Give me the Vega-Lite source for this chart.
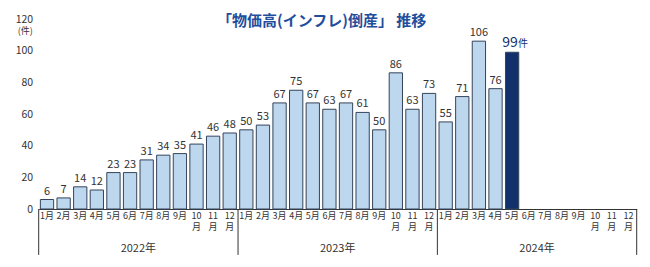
{
  "$schema": "https://vega.github.io/schema/vega-lite/v6.json",
  "width": 598,
  "height": 190,
  "autosize": {"type": "none"},
  "padding": {"left": 38.7, "top": 19, "right": 13.3, "bottom": 58},
  "config": {"font": "Noto Sans CJK JP", "view": {"stroke": null}, "axis": {"labelOverlap": false, "labelBound": false, "labelFlush": false}},
  "title": {"text": "「物価高(インフレ)倒産」 推移", "fontSize": 15, "fontWeight": "bold", "color": "#1f4e9c", "anchor": "middle", "dx": -16, "offset": -15, "font": "Noto Sans CJK JP"},
  "datasets": {
    "months": [
      {"m": "2022-01", "v": 6, "hl": "n"}, {"m": "2022-02", "v": 7, "hl": "n"}, {"m": "2022-03", "v": 14, "hl": "n"},
      {"m": "2022-04", "v": 12, "hl": "n"}, {"m": "2022-05", "v": 23, "hl": "n"}, {"m": "2022-06", "v": 23, "hl": "n"},
      {"m": "2022-07", "v": 31, "hl": "n"}, {"m": "2022-08", "v": 34, "hl": "n"}, {"m": "2022-09", "v": 35, "hl": "n"},
      {"m": "2022-10", "v": 41, "hl": "n"}, {"m": "2022-11", "v": 46, "hl": "n"}, {"m": "2022-12", "v": 48, "hl": "n"},
      {"m": "2023-01", "v": 50, "hl": "n"}, {"m": "2023-02", "v": 53, "hl": "n"}, {"m": "2023-03", "v": 67, "hl": "n"},
      {"m": "2023-04", "v": 75, "hl": "n"}, {"m": "2023-05", "v": 67, "hl": "n"}, {"m": "2023-06", "v": 63, "hl": "n"},
      {"m": "2023-07", "v": 67, "hl": "n"}, {"m": "2023-08", "v": 61, "hl": "n"}, {"m": "2023-09", "v": 50, "hl": "n"},
      {"m": "2023-10", "v": 86, "hl": "n"}, {"m": "2023-11", "v": 63, "hl": "n"}, {"m": "2023-12", "v": 73, "hl": "n"},
      {"m": "2024-01", "v": 55, "hl": "n"}, {"m": "2024-02", "v": 71, "hl": "n"}, {"m": "2024-03", "v": 106, "hl": "n"},
      {"m": "2024-04", "v": 76, "hl": "n"}, {"m": "2024-05", "v": 99, "hl": "y"}
    ],
    "years": [{"m": "2022-07", "year": "2022年"}, {"m": "2023-07", "year": "2023年"}, {"m": "2024-07", "year": "2024年"}],
    "div": [{"m": "2022-01"}, {"m": "2023-01"}, {"m": "2024-01"}],
    "end": [{"m": "2024-12"}]
  },
  "layer": [
    {
      "data": {"name": "months"},
      "mark": {"type": "bar", "stroke": "#34445a", "strokeWidth": 1},
      "encoding": {
        "x": {
          "field": "m", "type": "ordinal",
          "scale": {
            "domain": ["2022-01","2022-02","2022-03","2022-04","2022-05","2022-06","2022-07","2022-08","2022-09","2022-10","2022-11","2022-12",
                       "2023-01","2023-02","2023-03","2023-04","2023-05","2023-06","2023-07","2023-08","2023-09","2023-10","2023-11","2023-12",
                       "2024-01","2024-02","2024-03","2024-04","2024-05","2024-06","2024-07","2024-08","2024-09","2024-10","2024-11","2024-12"],
            "paddingInner": 0.2, "paddingOuter": 0.1
          },
          "axis": {
            "title": null, "ticks": false, "grid": false, "domainColor": "#333333", "domainWidth": 1,
            "labelAngle": 0, "labelPadding": 2, "labelFontSize": 9, "labelColor": "#333333", "labelLineHeight": 11,
            "labelOverlap": false, "labelBaseline": "top",
            "labelExpr": "toNumber(slice(datum.value, 5)) >= 10 ? [slice(datum.value, 5), '月'] : toNumber(slice(datum.value, 5)) + '月'"
          }
        },
        "y": {
          "field": "v", "type": "quantitative",
          "scale": {"domain": [0, 120], "nice": false},
          "axis": {
            "values": [0, 20, 40, 60, 80, 100, 120], "tickCount": 7, "ticks": false, "domain": false, "grid": false, "labelOverlap": false,
            "labelFontSize": 10.5, "labelColor": "#333333", "labelPadding": 6,
            "title": "(件)", "titleAngle": 0, "titleX": -14, "titleY": 11, "titleAlign": "center", "titleBaseline": "middle",
            "titleFontSize": 9, "titleFontWeight": "normal", "titleColor": "#333333"
          }
        },
        "color": {"field": "hl", "type": "nominal", "scale": {"domain": ["n", "y"], "range": ["#bdd7ee", "#12306b"]}, "legend": null}
      }
    },
    {
      "data": {"name": "months"},
      "transform": [{"filter": "datum.hl == 'n'"}],
      "mark": {"type": "text", "baseline": "bottom", "dy": -3, "fontSize": 11, "color": "#333333"},
      "encoding": {
        "x": {"field": "m", "type": "ordinal"},
        "y": {"field": "v", "type": "quantitative"},
        "text": {"field": "v", "type": "quantitative"}
      }
    },
    {
      "data": {"name": "months"},
      "transform": [{"filter": "datum.hl == 'y'"}],
      "mark": {"type": "text", "baseline": "bottom", "dy": -2, "dx": -2, "fontSize": 14, "color": "#12306b"},
      "encoding": {
        "x": {"field": "m", "type": "ordinal"},
        "y": {"field": "v", "type": "quantitative"},
        "text": {"field": "v", "type": "quantitative"}
      }
    },
    {
      "data": {"name": "months"},
      "transform": [{"filter": "datum.hl == 'y'"}],
      "mark": {"type": "text", "baseline": "bottom", "align": "left", "dy": -3, "dx": 6, "fontSize": 10, "color": "#12306b"},
      "encoding": {
        "x": {"field": "m", "type": "ordinal"},
        "y": {"field": "v", "type": "quantitative"},
        "text": {"value": "件"}
      }
    },
    {
      "data": {"name": "div"},
      "mark": {"type": "rule", "color": "#333333", "strokeWidth": 1},
      "encoding": {
        "x": {"field": "m", "type": "ordinal", "bandPosition": -0.125},
        "y": {"datum": 0, "type": "quantitative"},
        "y2": {"datum": -29}
      }
    },
    {
      "data": {"name": "end"},
      "mark": {"type": "rule", "color": "#333333", "strokeWidth": 1},
      "encoding": {
        "x": {"field": "m", "type": "ordinal", "bandPosition": 1.125},
        "y": {"datum": 0, "type": "quantitative"},
        "y2": {"datum": -29}
      }
    },
    {
      "data": {"name": "years"},
      "mark": {"type": "text", "baseline": "middle", "fontSize": 11, "color": "#333333"},
      "encoding": {
        "x": {"field": "m", "type": "ordinal", "bandPosition": -0.125},
        "y": {"datum": -25, "type": "quantitative"},
        "text": {"field": "year", "type": "nominal"}
      }
    }
  ]
}
